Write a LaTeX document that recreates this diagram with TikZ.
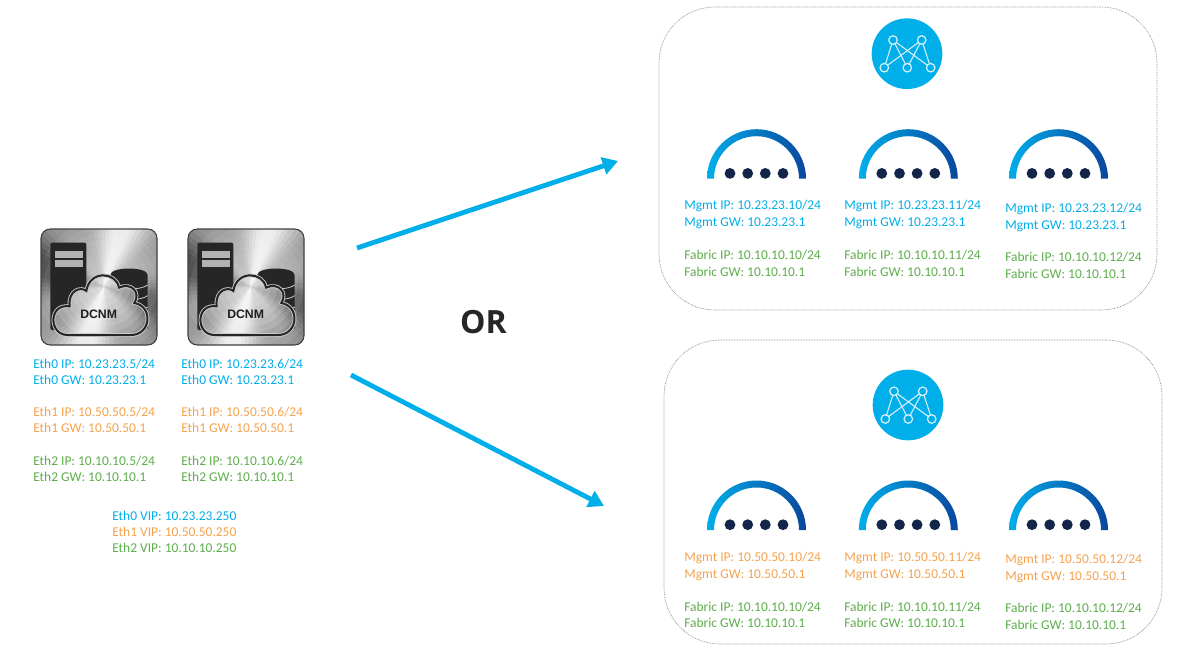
\documentclass[tikz,border=0pt]{standalone}
\usepackage{fontspec}
\setmainfont{Carlito}
\newfontfamily\orfont{Open Sans}
\newfontfamily\dcfont{Liberation Sans}
\usetikzlibrary{arrows.meta}
\definecolor{cblue}{HTML}{00AEEA}
\definecolor{corange}{HTML}{F5A34E}
\definecolor{cgreen}{HTML}{5DAE4B}
\definecolor{cnavy}{HTML}{14254A}
\definecolor{cdeep}{HTML}{0A479E}
\definecolor{cmid}{HTML}{0A8CC8}
\tikzset{
  lbl/.style={anchor=west,inner sep=0pt,font=\fontsize{10.1pt}{11pt}\selectfont},
  lblb/.style={lbl,text=cblue},
  lblo/.style={lbl,text=corange},
  lblg/.style={lbl,text=cgreen},
  panel/.style={draw=gray!85,line width=0.5pt,dash pattern=on 0.6pt off 0.6pt,rounded corners=42pt},
  flow/.style={draw=cblue,line width=3.6pt,-{Triangle[length=11.5pt,width=13pt]}},
  fabnode/.style={circle,draw=white!85!cblue,line width=0.9pt,fill=cblue,minimum size=6.4pt,inner sep=0pt},
  fabedge/.style={draw=white!85!cblue,line width=0.8pt},
}
% metal texture: sectors round the centre (#1,#2), local units
\newcommand{\metalrays}[2]{%
  \foreach \a in {0,4,...,356}{%
    \pgfmathsetmacro{\gv}{max(8,min(72,40-26*cos(2*(\a-285))-9*cos(6*(\a-285))))}%
    \fill[black!\gv!white] (#1,#2) -- +(\a:700) -- +(\a+5:700) -- cycle;}%
}
\newcommand{\cloudpath}{(80,318) .. controls (22,318) and (22,222) .. (86,232)
  .. controls (80,182) and (122,172) .. (136,186)
  .. controls (146,122) and (226,128) .. (234,176)
  .. controls (272,158) and (300,192) .. (280,222)
  .. controls (338,232) and (330,318) .. (270,318) -- cycle}
% Server icon body, origin = top-left of the metal square
\newcommand{\servericon}[3]{%
\begin{scope}[shift={(#1,#2)},x=0.25pt,y=-0.25pt]
  \begin{scope}
    \clip[rounded corners=7pt] (0,0) rectangle (348,348);
    \metalrays{188}{173}
    \foreach \r in {20,40,...,200}{\fill[white,opacity=0.07] (188,173) circle (\r);}
  \end{scope}
  \draw[black!75,line width=0.8pt,rounded corners=7pt] (0,0) rectangle (348,348);
  \fill[black!85,rounded corners=1.5pt] (28,41) rectangle (136,303);
  \fill[black!30] (43,65) rectangle (125,86);
  \fill[black!30] (43,94) rectangle (125,114);
  % database stack
  \fill[black!85] (208,138) .. controls (208,112) and (320,112) .. (320,138)
     -- (320,298) -- (208,298) -- cycle;
  \foreach \yy in {172,204,238,270}{\draw[black!20,line width=0.6pt] (208,\yy) .. controls (230,\yy+12) and (300,\yy+12) .. (320,\yy-4);}
  % cloud
  \begin{scope}
    \clip \cloudpath;
    \metalrays{188}{173}
    \foreach \r in {20,40,...,160}{\fill[white,opacity=0.13] (188,173) circle (\r);}
  \end{scope}
  \draw[white!80!black,line width=2.8pt] \cloudpath;
  \draw[black!85,line width=1.5pt] \cloudpath;
  \node[inner sep=0pt,text=black!88,font=\dcfont\bfseries\fontsize{9.2pt}{10pt}\selectfont] (#3) at (173,255) {DCNM};
\end{scope}}
% Half-ring with four dots: centre x, base y
\newcommand{\ctrl}[3]{%
  \shade[left color=cblue,middle color=cmid,right color=cdeep]
    (#1-49.5,#2) arc[start angle=180,end angle=360,radius=49.5] -- ++(-7,0)
    arc[start angle=0,end angle=-180,radius=42.5] -- cycle;
  \foreach \dx in {-26.5,-8.8,8.8,26.5}{\fill[cnavy] (#1+\dx,#2-5.3) circle (5.4);}
  \coordinate (#3) at (#1,#2);}
% Fabric badge
\newcommand{\fabric}[3]{%
  \node[circle,fill=cblue,minimum size=53pt,inner sep=0pt] (#3) at (#1,#2) {};
  \foreach \n/\dx/\dy in {tl/-14/-13.7,tr/14.7/-13.7,bl/-22.7/14,bm/0.3/14,br/23.7/14}{
    \coordinate (#3\n) at (#1+\dx,#2+\dy);}
  \foreach \s in {tl,tr}\foreach \e in {bl,bm,br}{\draw[fabedge] (#3\s) -- (#3\e);}
  \foreach \n in {tl,tr,bl,bm,br}{\node[fabnode] (#3\n n) at (#3\n) {};}
}
\begin{document}
\begin{tikzpicture}[x=0.75pt,y=-0.75pt]
\useasboundingbox (0,0) rectangle (1181,656);
\fill[white] (0,0) rectangle (1181,656);
% panels
\node[panel,minimum width=373.5pt,minimum height=227.25pt,inner sep=0pt] (panelA) at (908,158.5) {};
\node[panel,minimum width=373.5pt,minimum height=228pt,inner sep=0pt] (panelB) at (913,492) {};
% server icons
\servericon{41}{229}{dcnmA}
\servericon{188}{229}{dcnmB}
% left text
\node[lblb] (a1) at (33,364) {Eth0 IP: 10.23.23.5/24};
\node[lblb] (a2) at (33,380) {Eth0 GW: 10.23.23.1};
\node[lblo] (a3) at (33,412) {Eth1 IP: 10.50.50.5/24};
\node[lblo] (a4) at (33,428) {Eth1 GW: 10.50.50.1};
\node[lblg] (a5) at (33,461) {Eth2 IP: 10.10.10.5/24};
\node[lblg] (a6) at (33,477) {Eth2 GW: 10.10.10.1};
\node[lblb] (b1) at (181,364) {Eth0 IP: 10.23.23.6/24};
\node[lblb] (b2) at (181,380) {Eth0 GW: 10.23.23.1};
\node[lblo] (b3) at (181,412) {Eth1 IP: 10.50.50.6/24};
\node[lblo] (b4) at (181,428) {Eth1 GW: 10.50.50.1};
\node[lblg] (b5) at (181,461) {Eth2 IP: 10.10.10.6/24};
\node[lblg] (b6) at (181,477) {Eth2 GW: 10.10.10.1};
\node[lblb] (v0) at (112,516) {Eth0 VIP: 10.23.23.250};
\node[lblo] (v1) at (112,532) {Eth1 VIP: 10.50.50.250};
\node[lblg] (v2) at (112,548) {Eth2 VIP: 10.10.10.250};
% OR
\node[inner sep=0pt,text=black!85,font=\orfont\bfseries\fontsize{24pt}{26pt}\selectfont] (orlabel) at (483.5,322) {OR};
% arrows
\coordinate (s1) at (357,248);
\coordinate (e1) at (618,161);
\coordinate (s2) at (351,375);
\coordinate (e2) at (604,506);
\draw[flow] (s1) -- (e1);
\draw[flow] (s2) -- (e2);
% fabric badges
\fabric{907}{53.7}{fabA}
\fabric{908}{405}{fabB}
% controllers
\ctrl{756.5}{178.7}{cA1}
\ctrl{908.3}{178.7}{cA2}
\ctrl{1058.5}{178.7}{cA3}
\ctrl{756.5}{530}{cB1}
\ctrl{908.3}{530}{cB2}
\ctrl{1058.5}{530}{cB3}
% panel A text
\node[lblb] (p1) at (684,206) {Mgmt IP: 10.23.23.10/24};
\node[lblb] (p2) at (684,223) {Mgmt GW: 10.23.23.1};
\node[lblg] (p3) at (684,255) {Fabric IP: 10.10.10.10/24};
\node[lblg] (p4) at (684,272) {Fabric GW: 10.10.10.1};
\node[lblb] (q1) at (844,206) {Mgmt IP: 10.23.23.11/24};
\node[lblb] (q2) at (844,223) {Mgmt GW: 10.23.23.1};
\node[lblg] (q3) at (844,255) {Fabric IP: 10.10.10.11/24};
\node[lblg] (q4) at (844,272) {Fabric GW: 10.10.10.1};
\node[lblb] (r1) at (1005,209) {Mgmt IP: 10.23.23.12/24};
\node[lblb] (r2) at (1005,226) {Mgmt GW: 10.23.23.1};
\node[lblg] (r3) at (1005,257) {Fabric IP: 10.10.10.12/24};
\node[lblg] (r4) at (1005,274) {Fabric GW: 10.10.10.1};
% panel B text
\node[lblo] (s1t) at (684,558) {Mgmt IP: 10.50.50.10/24};
\node[lblo] (s2t) at (684,575) {Mgmt GW: 10.50.50.1};
\node[lblg] (s3t) at (684,607) {Fabric IP: 10.10.10.10/24};
\node[lblg] (s4t) at (684,623) {Fabric GW: 10.10.10.1};
\node[lblo] (t1) at (844,558) {Mgmt IP: 10.50.50.11/24};
\node[lblo] (t2) at (844,575) {Mgmt GW: 10.50.50.1};
\node[lblg] (t3) at (844,607) {Fabric IP: 10.10.10.11/24};
\node[lblg] (t4) at (844,623) {Fabric GW: 10.10.10.1};
\node[lblo] (u1) at (1005,560) {Mgmt IP: 10.50.50.12/24};
\node[lblo] (u2) at (1005,577) {Mgmt GW: 10.50.50.1};
\node[lblg] (u3) at (1005,608) {Fabric IP: 10.10.10.12/24};
\node[lblg] (u4) at (1005,625) {Fabric GW: 10.10.10.1};
\end{tikzpicture}
\end{document}
